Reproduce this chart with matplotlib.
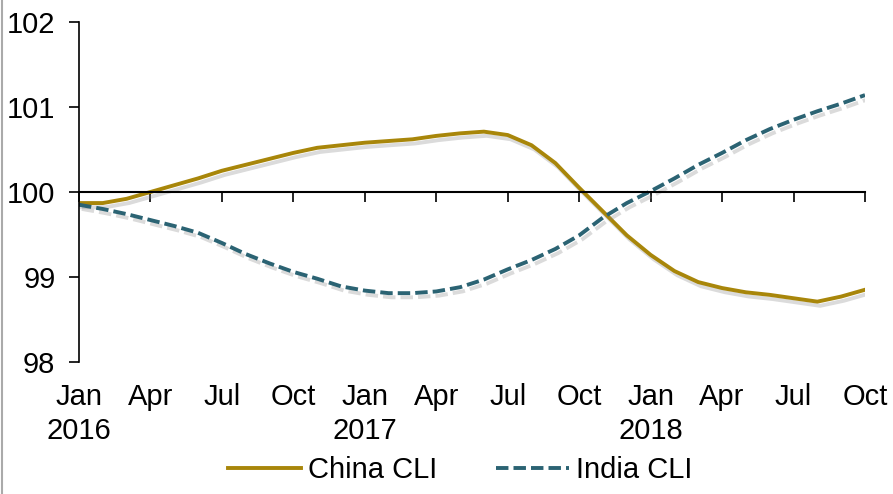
import matplotlib
matplotlib.use("Agg")
import matplotlib.pyplot as plt
import matplotlib.patheffects as pe
from matplotlib.lines import Line2D

# monthly, Jan 2016 .. Oct 2018
meses = list(range(34))
china_cli = [99.87, 99.87, 99.92, 100.00, 100.08, 100.16, 100.25, 100.32, 100.39, 100.46,
             100.52, 100.55, 100.58, 100.60, 100.62, 100.66, 100.69, 100.71, 100.67, 100.55,
             100.34, 100.05, 99.77, 99.49, 99.26, 99.07, 98.94, 98.87, 98.82, 98.79,
             98.75, 98.71, 98.77, 98.85]
india_cli = [99.85, 99.80, 99.74, 99.67, 99.60, 99.52, 99.40, 99.27, 99.16, 99.06,
             98.98, 98.89, 98.84, 98.81, 98.81, 98.83, 98.88, 98.97, 99.09, 99.20,
             99.33, 99.49, 99.70, 99.87, 100.01, 100.16, 100.32, 100.46, 100.61, 100.74,
             100.85, 100.95, 101.04, 101.14]
tick_pos = [0, 3, 6, 9, 12, 15, 18, 21, 24, 27, 30, 33]
tick_labels = ["Jan\n2016", "Apr", "Jul", "Oct", "Jan\n2017", "Apr", "Jul", "Oct",
               "Jan\n2018", "Apr", "Jul", "Oct"]
y_ticks = [98, 99, 100, 101, 102]

plt.rcParams['font.family'] = ['Liberation Sans', 'DejaVu Sans']

fig = plt.figure(figsize=(8.93, 4.94), dpi=100)
ax = fig.add_axes([79 / 893, 1 - 362 / 494, (865 - 79) / 893, 340 / 494])

col_china = '#A8860A'
col_india = '#2B6373'
guiones = (0, (3.2, 1.3))
sombra = [pe.SimpleLineShadow(offset=(2, -3), shadow_color='#888888', alpha=0.3), pe.Normal()]
ax.plot(meses, china_cli, color=col_china, lw=2.8, path_effects=sombra)
ax.plot(meses, india_cli, color=col_india, lw=2.8, linestyle=guiones, path_effects=sombra)

ax.set_xlim(0, 33)
ax.set_ylim(98, 102)
ax.set_yticks(y_ticks)
ax.tick_params(axis='y', direction='out', length=7, width=1.2, labelsize=21, pad=10)

# eje x cruzando en 100
ax.spines['top'].set_visible(False)
ax.spines['right'].set_visible(False)
ax.spines['bottom'].set_position(('data', 100))
ax.spines['bottom'].set_linewidth(1.5)
ax.spines['left'].set_linewidth(1.2)
ax.set_xticks(tick_pos)
ax.tick_params(axis='x', direction='out', length=7, width=1.2, labelbottom=False)

# etiquetas abajo
sec = ax.secondary_xaxis('bottom')
sec.spines['bottom'].set_visible(False)
sec.set_xticks(tick_pos)
sec.set_xticklabels(tick_labels, fontsize=21, linespacing=1.3)
sec.tick_params(axis='x', length=0, pad=15)

handles = [Line2D([], [], color=col_china, lw=2.8),
           Line2D([], [], color=col_india, lw=2.8, linestyle=guiones)]
fig.legend(handles, ['China CLI', 'India CLI'], loc='center',
           bbox_to_anchor=(460 / 893, 24 / 494), ncol=2, frameon=False,
           fontsize=21, handlelength=2.5, handletextpad=0.25, columnspacing=2.0)

fig.add_artist(Line2D([0.002, 0.002], [0, 1], color='#aaaaaa', lw=1.5))

plt.savefig('out.png', dpi=100)
